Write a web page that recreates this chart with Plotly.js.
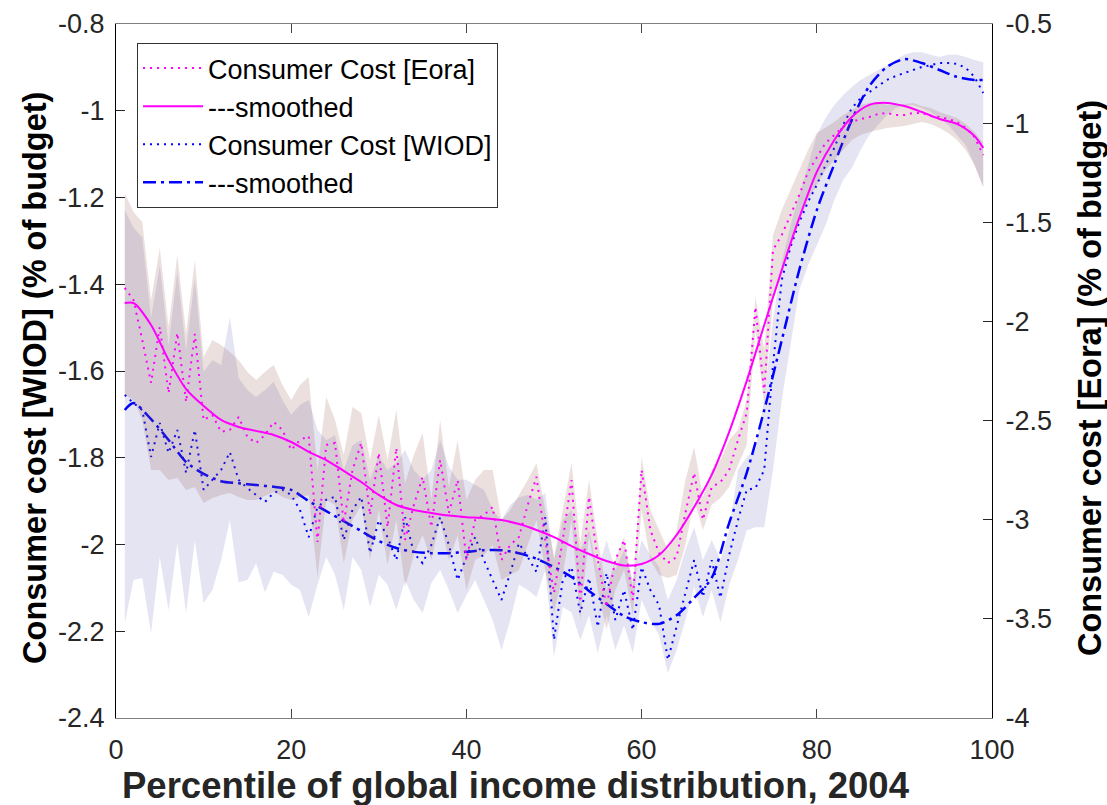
<!DOCTYPE html>
<html><head><meta charset="utf-8">
<script src="https://cdn.plot.ly/plotly-3.0.1.min.js"></script>
<style>html,body{margin:0;padding:0;background:#fff}#chart{width:1107px;height:805px}</style>
</head><body><div id="chart"></div>
<script>
const pct = [1,2,3,4,5,6,7,8,9,10,11,12,13,14,15,16,17,18,19,20,21,22,23,24,25,26,27,28,29,30,31,32,33,34,35,36,37,38,39,40,41,42,43,44,45,46,47,48,49,50,51,52,53,54,55,56,57,58,59,60,61,62,63,64,65,66,67,68,69,70,71,72,73,74,75,76,77,78,79,80,81,82,83,84,85,86,87,88,89,90,91,92,93,94,95,96,97,98,99];

const eoraRaw = [-1.831,-1.892,-2.094,-2.310,-2.028,-2.361,-2.058,-2.406,-2.063,-2.497,
-2.472,-2.557,-2.547,-2.482,-2.583,-2.613,-2.573,-2.507,-2.547,-2.648,
-2.598,-2.578,-3.112,-2.623,-2.613,-3.016,-2.749,-2.613,-2.976,-2.663,
-3.037,-2.638,-3.102,-2.926,-2.784,-3.037,-2.699,-2.966,-2.800,-3.203,
-3.001,-2.976,-2.936,-3.203,-3.127,-3.087,-2.926,-2.784,-3.102,-3.369,
-3.102,-2.800,-3.415,-2.885,-3.203,-3.440,-3.203,-3.102,-3.405,-2.749,
-3.052,-3.168,-3.218,-3.188,-2.966,-2.764,-3.001,-2.835,-2.810,-2.749,
-2.598,-2.462,-1.927,-2.361,-1.640,-1.564,-1.463,-1.362,-1.246,-1.176,
-1.100,-1.060,-1.019,-0.994,-0.979,-0.969,-0.954,-0.949,-0.959,-0.959,
-0.949,-0.949,-0.964,-0.969,-0.979,-0.994,-1.024,-1.070,-1.161];

const eoraHi = [-1.352,-1.448,-1.499,-1.892,-1.630,-2.028,-1.665,-2.058,-1.690,-2.179,
-2.094,-2.119,-2.154,-2.194,-2.255,-2.295,-2.255,-2.220,-2.321,-2.396,
-2.321,-2.280,-2.749,-2.381,-2.497,-2.674,-2.431,-2.462,-2.699,-2.472,
-2.699,-2.447,-2.815,-2.674,-2.563,-2.900,-2.497,-2.835,-2.598,-2.900,
-2.800,-2.749,-2.749,-3.001,-2.951,-2.875,-2.800,-2.714,-2.951,-3.188,
-2.951,-2.714,-3.117,-2.800,-3.102,-3.354,-3.203,-3.087,-3.339,-2.684,
-2.951,-3.052,-3.153,-3.052,-2.800,-2.633,-2.885,-2.749,-2.699,-2.598,
-2.547,-2.396,-1.877,-2.144,-1.564,-1.438,-1.337,-1.236,-1.135,-1.050,
-1.024,-0.994,-0.959,-0.934,-0.908,-0.898,-0.893,-0.908,-0.908,-0.903,
-0.898,-0.914,-0.924,-0.944,-0.959,-0.974,-1.004,-1.045,-1.100];

const eoraLo = [-2.371,-2.396,-2.497,-2.749,-2.749,-2.800,-2.790,-2.850,-2.835,-2.916,
-2.890,-2.875,-2.865,-2.885,-2.900,-2.900,-2.880,-2.860,-2.885,-2.900,
-2.885,-2.875,-3.289,-2.900,-2.926,-3.218,-3.001,-2.926,-3.203,-2.951,
-3.228,-3.001,-3.339,-3.178,-3.077,-3.203,-3.001,-3.203,-3.077,-3.354,
-3.203,-3.178,-3.127,-3.304,-3.279,-3.253,-3.127,-3.001,-3.253,-3.470,
-3.279,-3.001,-3.506,-3.077,-3.354,-3.556,-3.354,-3.253,-3.480,-2.951,
-3.203,-3.279,-3.294,-3.279,-3.127,-2.900,-3.052,-2.926,-2.890,-2.835,
-2.724,-2.623,-2.043,-2.421,-1.892,-1.741,-1.615,-1.488,-1.388,-1.312,
-1.236,-1.186,-1.135,-1.085,-1.060,-1.045,-1.035,-1.024,-1.019,-1.014,
-1.004,-0.994,-1.004,-1.024,-1.050,-1.085,-1.135,-1.211,-1.322];

const wiodRaw = [-1.655,-1.674,-1.690,-1.798,-1.720,-1.789,-1.736,-1.835,-1.736,-1.874,
-1.851,-1.828,-1.787,-1.851,-1.870,-1.886,-1.902,-1.881,-1.874,-1.886,
-1.920,-1.983,-1.914,-1.897,-1.890,-1.990,-1.920,-1.890,-2.020,-1.944,
-1.983,-2.036,-1.937,-2.020,-2.043,-2.001,-1.937,-2.001,-2.082,-2.029,
-1.983,-2.036,-2.082,-2.128,-2.066,-1.997,-2.029,-2.063,-1.937,-2.220,
-2.082,-2.052,-2.158,-2.077,-2.190,-2.066,-2.174,-2.105,-2.197,-2.052,
-2.105,-2.140,-2.266,-2.186,-2.112,-2.036,-2.121,-2.036,-2.123,-2.024,
-1.944,-1.874,-1.870,-1.828,-1.586,-1.390,-1.314,-1.257,-1.210,-1.171,
-1.125,-1.086,-1.033,-0.994,-0.971,-0.957,-0.943,-0.929,-0.920,-0.913,
-0.906,-0.899,-0.895,-0.890,-0.890,-0.892,-0.901,-0.922,-0.959];

const wiodHi = [-1.229,-1.270,-1.293,-1.478,-1.356,-1.540,-1.372,-1.552,-1.386,-1.602,
-1.575,-1.586,-1.476,-1.616,-1.644,-1.660,-1.644,-1.625,-1.667,-1.701,
-1.678,-1.667,-1.736,-1.759,-1.748,-1.828,-1.771,-1.759,-1.851,-1.794,
-1.828,-1.812,-1.782,-1.828,-1.851,-1.828,-1.759,-1.821,-1.851,-1.851,
-1.863,-1.874,-1.920,-1.944,-1.909,-1.891,-1.886,-1.897,-1.881,-2.036,
-1.944,-1.920,-2.013,-1.967,-2.059,-1.990,-2.059,-2.013,-2.082,-1.990,
-2.024,-2.052,-2.128,-2.082,-2.013,-1.960,-2.036,-1.990,-2.036,-1.967,
-1.828,-1.798,-1.782,-1.667,-1.482,-1.349,-1.264,-1.194,-1.125,-1.056,
-1.017,-0.987,-0.964,-0.945,-0.929,-0.918,-0.906,-0.895,-0.883,-0.871,
-0.865,-0.865,-0.871,-0.876,-0.871,-0.871,-0.876,-0.883,-0.888];

const wiodLo = [-2.181,-2.082,-2.077,-2.204,-2.029,-2.151,-1.997,-2.158,-1.990,-2.135,
-2.105,-2.036,-1.944,-2.087,-2.082,-2.043,-2.110,-2.063,-2.070,-2.093,
-2.105,-2.167,-2.093,-2.029,-2.070,-2.151,-2.029,-2.059,-2.144,-2.070,
-2.093,-2.151,-2.082,-2.128,-2.158,-2.089,-2.059,-2.105,-2.158,-2.117,
-2.082,-2.128,-2.174,-2.243,-2.174,-2.093,-2.105,-2.121,-2.059,-2.259,
-2.144,-2.156,-2.220,-2.163,-2.250,-2.163,-2.243,-2.186,-2.250,-2.128,
-2.174,-2.209,-2.296,-2.243,-2.174,-2.098,-2.167,-2.105,-2.179,-2.093,
-2.036,-1.967,-1.960,-1.960,-1.828,-1.667,-1.535,-1.413,-1.356,-1.309,
-1.264,-1.206,-1.160,-1.132,-1.090,-1.056,-1.033,-1.010,-0.994,-0.987,
-0.987,-0.994,-1.003,-1.017,-1.033,-1.056,-1.079,-1.125,-1.176];

const smoothPct = [1,2,4,6,8,10,12,14,16,18,20,22,24,26,28,30,32,34,36,38,40,42,44,46,48,50,52,54,56,58,60,62,64,66,68,70,72,74,76,78,80,82,84,86,88,90,92,94,96,98,99];

const eoraSmooth = [-1.907,-1.907,-2.018,-2.194,-2.341,-2.426,-2.497,-2.532,-2.552,-2.573,
-2.608,-2.658,-2.699,-2.754,-2.810,-2.875,-2.926,-2.951,-2.966,-2.979,
-2.987,-2.992,-3.002,-3.022,-3.052,-3.088,-3.133,-3.173,-3.208,-3.231,
-3.223,-3.178,-3.077,-2.936,-2.774,-2.557,-2.300,-2.018,-1.741,-1.478,
-1.246,-1.085,-0.969,-0.908,-0.898,-0.914,-0.944,-0.979,-1.004,-1.065,-1.125];

const wiodSmooth = [-1.690,-1.674,-1.711,-1.759,-1.810,-1.837,-1.854,-1.859,-1.863,-1.867,
-1.874,-1.900,-1.923,-1.946,-1.969,-1.992,-2.008,-2.017,-2.020,-2.020,
-2.017,-2.013,-2.013,-2.020,-2.033,-2.052,-2.075,-2.107,-2.137,-2.165,
-2.179,-2.183,-2.163,-2.123,-2.077,-1.950,-1.835,-1.690,-1.529,-1.367,
-1.229,-1.123,-1.021,-0.943,-0.899,-0.881,-0.890,-0.906,-0.922,-0.929,-0.929];

const xTickVals = [0,20,40,60,80,100];
const xTickText = ['0','20','40','60','80','100'];
const yLeftTickVals = [-2.4,-2.2,-2,-1.8,-1.6,-1.4,-1.2,-1,-0.8];
const yLeftTickText = ['-2.4','-2.2','-2','-1.8','-1.6','-1.4','-1.2','-1','-0.8'];
const yRightTickVals = [-4,-3.5,-3,-2.5,-2,-1.5,-1,-0.5];
const yRightTickText = ['-4','-3.5','-3','-2.5','-2','-1.5','-1','-0.5'];

const seriesNames = ['Consumer Cost [Eora]','---smoothed','Consumer Cost [WIOD]','---smoothed'];

function band(lo, hi){
  return {x: pct.concat(pct.slice().reverse()), y: hi.concat(lo.slice().reverse())};
}
const wb = band(wiodLo, wiodHi);
const eb = band(eoraLo, eoraHi);

const traces = [
  {x: wb.x, y: wb.y, yaxis:'y', type:'scatter', mode:'lines', fill:'toself',
   fillcolor:'rgba(110,110,190,0.19)', line:{width:0}, showlegend:false, hoverinfo:'skip'},
  {x: pct, y: wiodRaw, yaxis:'y', type:'scatter', mode:'lines', name: seriesNames[2],
   line:{color:'#0000ff', width:2, dash:'2px,5px'}, legendrank:3},
  {x: smoothPct, y: wiodSmooth, yaxis:'y', type:'scatter', mode:'lines', name: seriesNames[3],
   line:{color:'#0000ff', width:2.5, dash:'13px,5px,3px,5px', shape:'spline', smoothing:0.8}, legendrank:4},
  {x: eb.x, y: eb.y, yaxis:'y2', type:'scatter', mode:'lines', fill:'toself',
   fillcolor:'rgba(150,90,80,0.19)', line:{width:0}, showlegend:false, hoverinfo:'skip'},
  {x: pct, y: eoraRaw, yaxis:'y2', type:'scatter', mode:'lines', name: seriesNames[0],
   line:{color:'#ff00ff', width:2, dash:'2px,5px'}, legendrank:1},
  {x: smoothPct, y: eoraSmooth, yaxis:'y2', type:'scatter', mode:'lines', name: seriesNames[1],
   line:{color:'#ff00ff', width:2, shape:'spline', smoothing:0.8}, legendrank:2}
];

const FONT = 'Liberation Sans, Arial, Helvetica, sans-serif';
const axisCommon = {ticks:'inside', ticklen:9, tickwidth:1, showgrid:false, zeroline:false, showline:true,
  tickfont:{family:FONT, size:27, color:'#262626'}};

const layout = {
  width:1107, height:805,
  margin:{l:116, r:115, t:24, b:87, pad:0},
  paper_bgcolor:'#ffffff', plot_bgcolor:'#ffffff',
  font:{family:FONT, color:'#262626', size:27},
  showlegend:true,
  legend:{x:0.024, y:0.9726, xanchor:'left', yanchor:'top', bgcolor:'#ffffff',
    bordercolor:'#333333', borderwidth:1, font:{family:FONT, size:27, color:'#000000'},
    tracegroupgap:0, itemwidth:60, traceorder:'normal'},
  xaxis: Object.assign({}, axisCommon, {range:[0,100], tickvals:xTickVals, ticktext:xTickText,
    linecolor:'#808080', tickcolor:'#444444', mirror:'ticks', ticklabelstandoff:8}),
  yaxis: Object.assign({}, axisCommon, {range:[-2.4,-0.8], tickvals:yLeftTickVals, ticktext:yLeftTickText,
    linecolor:'#000000', tickcolor:'#262626', ticklabelstandoff:5}),
  yaxis2: Object.assign({}, axisCommon, {range:[-4,-0.5], tickvals:yRightTickVals, ticktext:yRightTickText,
    overlaying:'y', side:'right', linecolor:'#000000', tickcolor:'#262626', ticklabelstandoff:7}),
  annotations:[
    {text:'<b>Percentile of global income distribution, 2004</b>', xref:'paper', yref:'paper',
     x:0.4566, y:-0.097, xanchor:'center', yanchor:'middle', showarrow:false,
     font:{family:FONT, size:36.5, color:'#262626'}},
    {text:'<b>Consumer cost [WIOD] (% of budget)</b>', xref:'paper', yref:'paper',
     x:-0.0925, y:0.49, xanchor:'center', yanchor:'middle', showarrow:false, textangle:-90,
     font:{family:FONT, size:32.5, color:'#000000'}},
    {text:'<b>Consumer cost [Eora] (% of budget)</b>', xref:'paper', yref:'paper',
     x:1.112, y:0.49, xanchor:'center', yanchor:'middle', showarrow:false, textangle:-90,
     font:{family:FONT, size:32.5, color:'#000000'}}
  ]
};

Plotly.newPlot('chart', traces, layout, {displayModeBar:false, staticPlot:true});
</script>
</body></html>
